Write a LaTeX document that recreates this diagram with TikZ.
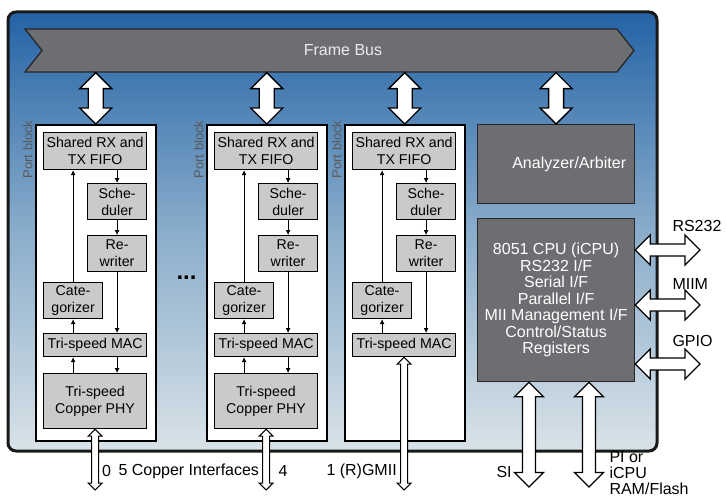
\documentclass[tikz,border=0pt]{standalone}
\usepackage{fontspec}
\setmainfont{Liberation Sans}
\usetikzlibrary{shapes.symbols,calc,positioning,arrows.meta}

\definecolor{bgtop}{HTML}{2463A6}
\definecolor{bgmid}{HTML}{8AADCB}
\definecolor{bgbot}{HTML}{D9E2E8}
\definecolor{darkbox}{HTML}{6D6E71}
\definecolor{lightbox}{HTML}{C9CACC}

\tikzset{
every picture/.style={
line width=1pt
}}
\tikzset{
unit/.style={draw, fill=lightbox, line width=1.2pt, inner sep=0pt, align=center,
  anchor=north west, font=\fontsize{14.2}{17}\selectfont},
dark/.style={draw=black!85, fill=darkbox, line width=1.2pt, text=white, inner sep=0pt,
  align=center, anchor=north west, font=\fontsize{16}{16.5}\selectfont},
lbl/.style={inner sep=0pt, font=\fontsize{16}{18}\selectfont},
portlabel/.style={inner sep=0pt, rotate=90, text=black!65, font=\fontsize{13}{13}\selectfont},
flow/.style={-{Latex[length=5pt,width=5pt]}, line width=0.8pt},
busarrow/.style={draw, fill=white, line width=1.3pt, line join=miter},
portblock/.pic={
  \node[draw, fill=white, line width=1.5pt, inner sep=0pt, anchor=north west,
    minimum width=120pt, minimum height=316pt] (blk) at (0,0) {};
  \node[portlabel, anchor=south east] at ([xshift=-2pt,yshift=4pt]blk.north west) {Port block};
  \node[unit, minimum width=103pt, minimum height=37pt] (fifo) at (8,8) {Shared RX and\\TX FIFO};
  \node[unit, minimum width=59pt, minimum height=36pt] (sch) at (52,59) {Sche-\\duler};
  \node[unit, minimum width=59pt, minimum height=36pt] (rew) at (52,111) {Re-\\writer};
  \node[unit, minimum width=59pt, minimum height=36pt] (cat) at (8,158) {Cate-\\gorizer};
  \node[unit, minimum width=103pt, minimum height=23pt] (mac) at (8,209) {Tri-speed MAC};
  \draw[flow] (cat.north) -- (cat.north |- fifo.south);
  \draw[flow] (sch.north |- fifo.south) -- (sch.north);
  \draw[flow] (sch.south) -- (rew.north);
  \draw[flow] (rew.south) -- (rew.south |- mac.north);
  \draw[flow] (cat.south |- mac.north) -- (cat.south);
  \ifnum#1=1
    \node[unit, minimum width=103pt, minimum height=55pt] (phy) at (8,249) {Tri-speed\\Copper PHY};
    \draw[flow] (phy.north -| cat.south) -- (mac.south -| cat.south);
    \draw[flow] (mac.south -| rew.south) -- (phy.north -| rew.south);
  \fi
  }}

% double headed bus arrows: [style]{first tip}{second tip}{head half width}{shaft half width}
\newcommand{\vbus}[5][]{%
  \draw[busarrow,#1] let \p1=(#2), \p2=(#3) in
    (\x1,\y1) -- ({\x1+#4},{\y1-#4}) -- ({\x1+#5},{\y1-#4}) -- ({\x1+#5},{\y2+#4})
    -- ({\x1+#4},{\y2+#4}) -- (\x1,\y2) -- ({\x1-#4},{\y2+#4}) -- ({\x1-#5},{\y2+#4})
    -- ({\x1-#5},{\y1-#4}) -- ({\x1-#4},{\y1-#4}) -- cycle;}
\newcommand{\hbus}[5][]{%
  \draw[busarrow,#1] let \p1=(#2), \p2=(#3) in
    (\x1,\y1) -- ({\x1+#4},{\y1+#4}) -- ({\x1+#4},{\y1+#5}) -- ({\x2-#4},{\y1+#5})
    -- ({\x2-#4},{\y1+#4}) -- (\x2,\y1) -- ({\x2-#4},{\y1-#4}) -- ({\x2-#4},{\y1-#5})
    -- ({\x1+#4},{\y1-#5}) -- ({\x1+#4},{\y1-#4}) -- cycle;}

\begin{document}
\begin{tikzpicture}[x=1pt, y=-1pt]
\useasboundingbox (0,0) rectangle (727,500);

% chip outline
\path[draw=black!90, line width=3pt, rounded corners=8pt,
  top color=bgtop, bottom color=bgbot, middle color=bgmid] (8,12) rectangle (657,451);

\node[signal, signal to=east, signal from=west, signal pointer angle=103,
  draw=black!85, fill=darkbox, line width=1.3pt, inner sep=0pt,
  minimum width=609pt, minimum height=43pt, text=black!8,
  font=\fontsize{16}{16}\selectfont] (bus) at (329.5,50.5) {\hspace*{27pt}Frame Bus};

\pic (p1) at (35,124) {portblock=1};
\pic (p2) at (206,124) {portblock=1};
\pic (p3) at (344,124) {portblock=0};

\node[font=\bfseries\fontsize{24}{24}\selectfont, anchor=base, inner sep=0pt] (dots) at (186.5,279) {...};

\node[dark, minimum width=157pt, minimum height=79pt, text width=140pt, align=right] (ana) at (477,124) {Analyzer/Arbiter};
\node[dark, minimum width=157pt, minimum height=163pt] (cpu) at (477,218)
  {8051 CPU (iCPU)\\RS232 I/F\\Serial I/F\\Parallel I/F\\MII Management I/F\\Control/Status\\Registers};

% frame bus connections
\vbus{p1blk.north |- bus.south}{p1blk.north}{16pt}{7.5pt}
\vbus{p2blk.north |- bus.south}{p2blk.north}{16pt}{7.5pt}
\vbus{p3blk.north |- bus.south}{p3blk.north}{16pt}{7.5pt}
\vbus{ana.north |- bus.south}{ana.north}{16pt}{7.5pt}

% external interfaces
\coordinate (ybot) at (0,490);
\vbus[line width=1pt]{p1phy.south}{p1phy.south |- ybot}{7pt}{3.5pt}
\vbus[line width=1pt]{p2phy.south}{p2phy.south |- ybot}{7pt}{3.5pt}
\vbus[line width=1pt]{p3mac.south}{p3mac.south |- ybot}{7pt}{3.5pt}

\coordinate (rsend) at (700,250);
\coordinate (miimend) at (700,305);
\coordinate (gpioend) at (700,364);
\hbus{cpu.east |- rsend}{rsend}{15pt}{6pt}
\hbus{cpu.east |- miimend}{miimend}{15pt}{6pt}
\hbus{cpu.east |- gpioend}{gpioend}{15pt}{6pt}

\coordinate (siend) at (529,487);
\coordinate (piend) at (589,487);
\vbus{cpu.south -| siend}{siend}{14.5pt}{6.5pt}
\vbus{cpu.south -| piend}{piend}{14.5pt}{6.5pt}

% labels
\node[lbl] (n0) at (106.5,471) {0};
\node[lbl, anchor=west] (ncu) at (118,471) {5 Copper Interfaces};
\node[lbl] (n4) at (283,471) {4};
\node[lbl, anchor=west] (ngmii) at (326,471) {1 (R)GMII};
\node[lbl, anchor=west] (nsi) at (496,472) {SI};
\node[lbl, anchor=north west, align=left, font=\fontsize{16}{16.2}\selectfont] (npi) at (609,451) {PI or\\iCPU\\RAM/Flash};
\node[lbl, anchor=west] (nrs) at (672,226) {RS232};
\node[lbl, anchor=west] (nmiim) at (672,284) {MIIM};
\node[lbl, anchor=west] (ngpio) at (672,341) {GPIO};

\end{tikzpicture}
\end{document}
